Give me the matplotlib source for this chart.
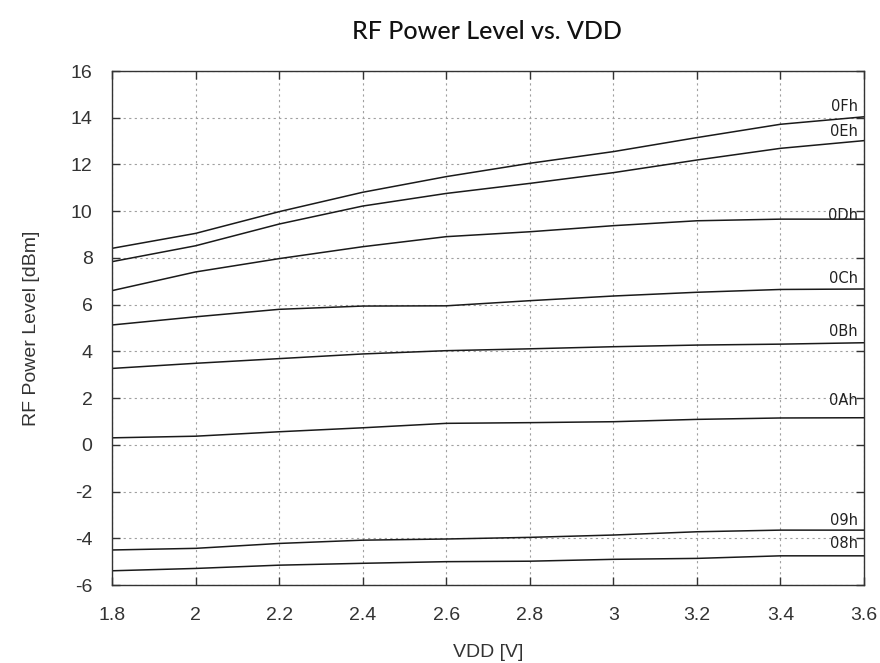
import numpy as np
import matplotlib
matplotlib.use("Agg")
import matplotlib.pyplot as plt

# supply voltage [V]
vdd = [1.8, 2.0, 2.2, 2.4, 2.6, 2.8, 3.0, 3.2, 3.4, 3.6]

# RF power level [dBm] for each power setting
p_0F = [8.41, 9.05, 9.98, 10.81, 11.48, 12.05, 12.55, 13.15, 13.72, 14.04]
p_0E = [7.84, 8.52, 9.45, 10.22, 10.76, 11.19, 11.65, 12.19, 12.69, 13.02]
p_0D = [6.60, 7.40, 7.97, 8.48, 8.91, 9.12, 9.38, 9.59, 9.66, 9.66]
p_0C = [5.13, 5.48, 5.80, 5.94, 5.95, 6.17, 6.37, 6.53, 6.65, 6.67]
p_0B = [3.27, 3.49, 3.69, 3.89, 4.03, 4.11, 4.20, 4.27, 4.31, 4.37]
p_0A = [0.30, 0.37, 0.56, 0.73, 0.92, 0.95, 0.99, 1.09, 1.15, 1.16]
p_09 = [-4.50, -4.43, -4.22, -4.08, -4.03, -3.96, -3.86, -3.72, -3.65, -3.65]
p_08 = [-5.39, -5.29, -5.15, -5.07, -5.00, -4.98, -4.90, -4.86, -4.75, -4.75]

series = [p_0F, p_0E, p_0D, p_0C, p_0B, p_0A, p_09, p_08]
names = ['0Fh', '0Eh', '0Dh', '0Ch', '0Bh', '0Ah', '09h', '08h']
# label lift above the line end, pixels
lift = [10, 9, 4, 11, 11, 17, 10, 12]

plt.rcParams['font.family'] = 'Liberation Sans'
plt.rcParams['axes.unicode_minus'] = False

fig = plt.figure(figsize=(8.8, 6.63), dpi=100)
ax = fig.add_axes([0.1273, 0.1176, 0.8545, 0.7753])

for y, name, dy in zip(series, names, lift):
    ax.plot(vdd, y, color='#1a1a1a', linewidth=1.1)
    ax.annotate(name, xy=(vdd[-1], y[-1]), xytext=(-6, dy),
                textcoords='offset pixels', ha='right', va='center',
                fontsize=10.5, family='DejaVu Sans', color='#222222')

ax.set_xlim(1.8, 3.6)
ax.set_ylim(-6, 16)
ax.set_xticks(np.arange(1.8, 3.61, 0.2))
ax.set_xticklabels(['1.8', '2', '2.2', '2.4', '2.6', '2.8', '3', '3.2', '3.4', '3.6'])
ax.set_yticks(range(-6, 17, 2))

ax.grid(True, color='#a0a0a0', linestyle=(0, (2, 3)), linewidth=0.8)
ax.tick_params(direction='in', length=6, width=1, color='#333333',
               top=True, right=True, labelsize=14, labelcolor='#333333')
ax.tick_params(axis='x', pad=16)
ax.tick_params(axis='y', pad=14)
for s in ax.spines.values():
    s.set_color('#333333')
    s.set_linewidth(1.0)

ax.set_xlabel('VDD [V]', fontsize=14, color='#333333', labelpad=14)
ax.set_ylabel('RF Power Level [dBm]', fontsize=14, color='#333333', labelpad=22)
fig.text(0.553, 0.952, 'RF Power Level vs. VDD', ha='center', va='center',
         fontsize=18, family='Lato', fontweight='medium', color='#111111')

plt.savefig('out.png', dpi=100)
